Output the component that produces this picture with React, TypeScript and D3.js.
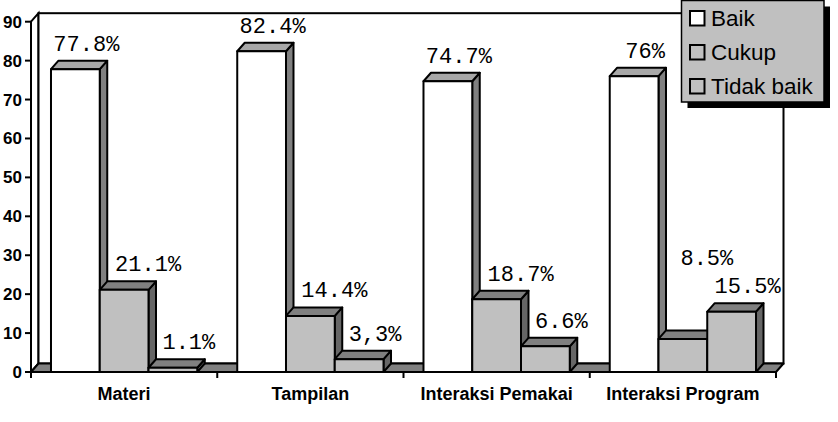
import React, { useEffect, useRef } from 'react';
import * as d3 from 'd3';

const categories = ['Materi', 'Tampilan', 'Interaksi Pemakai', 'Interaksi Program'];
const seriesNames = ['Baik', 'Cukup', 'Tidak baik'];
const baik = [77.8, 82.4, 74.7, 76];
const cukup = [21.1, 14.4, 18.7, 8.5];
const tidakBaik = [1.1, 3.3, 6.6, 15.5];
const baikLabels = ['77.8%', '82.4%', '74.7%', '76%'];
const cukupLabels = ['21.1%', '14.4%', '18.7%', '8.5%'];
const tidakBaikLabels = ['1.1%', '3,3%', '6.6%', '15.5%'];
const yTicks = [0, 10, 20, 30, 40, 50, 60, 70, 80, 90];

const seriesValues = [baik, cukup, tidakBaik];
const seriesLabels = [baikLabels, cukupLabels, tidakBaikLabels];

// face colours: front / top / side
const FRONT = ['#ffffff', '#c0c0c0', '#c0c0c0'];
const TOP = ['#a8a8a8', '#808080', '#808080'];
const SIDE = ['#808080', '#666666', '#666666'];
// label nudges per series (to the right of the bar centre)
const LABEL_DX = [11, 24, 16];

const W = 838;
const H = 422;

const App: React.FC = () => {
  const svgRef = useRef<SVGSVGElement | null>(null);

  useEffect(() => {
    if (!svgRef.current) return;
    const svg = d3.select(svgRef.current);
    svg.selectAll('*').remove();

    const left = 31;
    const right = 776;
    const dx = 7.5;
    const dy = -8.5;

    const x = d3.scaleBand().domain(categories).range([left, right]).paddingInner(0).paddingOuter(0);
    const xs = d3.scaleBand().domain(seriesNames).range([0, x.bandwidth()]).paddingInner(0).paddingOuter(0.41);
    const y = d3.scaleLinear().domain([0, 90]).range([372, 21.7]);

    const y0 = y(0);
    const yTop = y(90);

    const pts = (p: [number, number][]) => p.map(d => d.join(',')).join(' ');

    // left wall
    svg.append('polygon')
      .attr('points', pts([[left, yTop], [left + dx, yTop + dy], [left + dx, y0 + dy], [left, y0]]))
      .attr('fill', '#fff').attr('stroke', '#000').attr('stroke-width', 2);

    // back wall
    svg.append('rect')
      .attr('x', left + dx).attr('y', yTop + dy)
      .attr('width', right - left).attr('height', y0 - yTop)
      .attr('fill', '#fff').attr('stroke', '#000').attr('stroke-width', 2);

    // floor
    svg.append('polygon')
      .attr('points', pts([[left, y0], [left + dx, y0 + dy], [right + dx, y0 + dy], [right, y0]]))
      .attr('fill', '#808080').attr('stroke', '#000').attr('stroke-width', 2)
      .attr('stroke-linejoin', 'round');

    // bars, painted left to right
    const bars = svg.append('g');
    categories.forEach((cat, ci) => {
      seriesNames.forEach((s, si) => {
        const v = seriesValues[si][ci];
        const x0 = x(cat)! + xs(s)!;
        const x1 = x0 + xs.bandwidth();
        const yt = y(v);
        const g = bars.append('g')
          .attr('stroke', '#000').attr('stroke-width', 2).attr('stroke-linejoin', 'round');
        g.append('polygon')
          .attr('points', pts([[x1, yt], [x1 + dx, yt + dy], [x1 + dx, y0 + dy], [x1, y0]]))
          .attr('fill', SIDE[si]);
        g.append('polygon')
          .attr('points', pts([[x0, yt], [x0 + dx, yt + dy], [x1 + dx, yt + dy], [x1, yt]]))
          .attr('fill', TOP[si]);
        g.append('rect')
          .attr('x', x0).attr('y', yt).attr('width', x1 - x0).attr('height', y0 - yt)
          .attr('fill', FRONT[si]);
      });
    });

    // value labels
    const labels = svg.append('g')
      .attr('font-family', '"Liberation Mono", "Courier New", monospace')
      .attr('font-size', 22).attr('fill', '#000').attr('text-anchor', 'middle');
    categories.forEach((cat, ci) => {
      seriesNames.forEach((s, si) => {
        const v = seriesValues[si][ci];
        const cx = x(cat)! + xs(s)! + xs.bandwidth() / 2 + LABEL_DX[si];
        let by = y(v) + dy - 10;
        if (si === 1 && ci === 3) by -= 55; // 8.5% sits higher in the original
        labels.append('text').attr('x', cx).attr('y', by).text(seriesLabels[si][ci]);
      });
    });

    // y axis ticks + labels
    const yAxis = svg.append('g');
    yTicks.forEach(t => {
      yAxis.append('line')
        .attr('x1', left - 6).attr('x2', left).attr('y1', y(t)).attr('y2', y(t))
        .attr('stroke', '#000').attr('stroke-width', 2);
      yAxis.append('text')
        .attr('x', 22).attr('y', y(t) + 6)
        .attr('text-anchor', 'end')
        .attr('font-family', '"Liberation Sans", Arial, sans-serif')
        .attr('font-weight', 'bold').attr('font-size', 17)
        .text(t);
    });

    // x axis ticks + labels
    const xAxis = svg.append('g');
    const bounds = [...categories.map(c => x(c)!), right];
    bounds.forEach(b => {
      xAxis.append('line')
        .attr('x1', b).attr('x2', b).attr('y1', y0).attr('y2', y0 + 6)
        .attr('stroke', '#000').attr('stroke-width', 2);
    });
    categories.forEach(c => {
      xAxis.append('text')
        .attr('x', x(c)! + x.bandwidth() / 2).attr('y', 399.5)
        .attr('text-anchor', 'middle')
        .attr('font-family', '"Liberation Sans", Arial, sans-serif')
        .attr('font-weight', 'bold').attr('font-size', 18)
        .text(c);
    });

    // legend
    const lg = svg.append('g');
    const lx = 681.5;
    const ly = 0.5;
    const lw = 142.5;
    const lh = 101.5;
    lg.append('rect').attr('x', lx + 6).attr('y', ly + 6).attr('width', lw).attr('height', lh).attr('fill', '#000');
    lg.append('rect').attr('x', lx).attr('y', ly).attr('width', lw).attr('height', lh)
      .attr('fill', '#c0c0c0').attr('stroke', '#000').attr('stroke-width', 1.5);
    seriesNames.forEach((s, i) => {
      const base = 26 + i * 34;
      lg.append('rect')
        .attr('x', 690).attr('y', base - 15).attr('width', 14.5).attr('height', 14.5)
        .attr('fill', FRONT[i]).attr('stroke', '#000').attr('stroke-width', 2);
      lg.append('text')
        .attr('x', 711).attr('y', base)
        .attr('font-family', '"Liberation Sans", Arial, sans-serif')
        .attr('font-size', 22.5)
        .text(s);
    });
  }, []);

  return (
    <svg ref={svgRef} width={W} height={H}
      style={{ position: 'absolute', left: 0, top: 0, background: '#fff' }} />
  );
};

export default App;
